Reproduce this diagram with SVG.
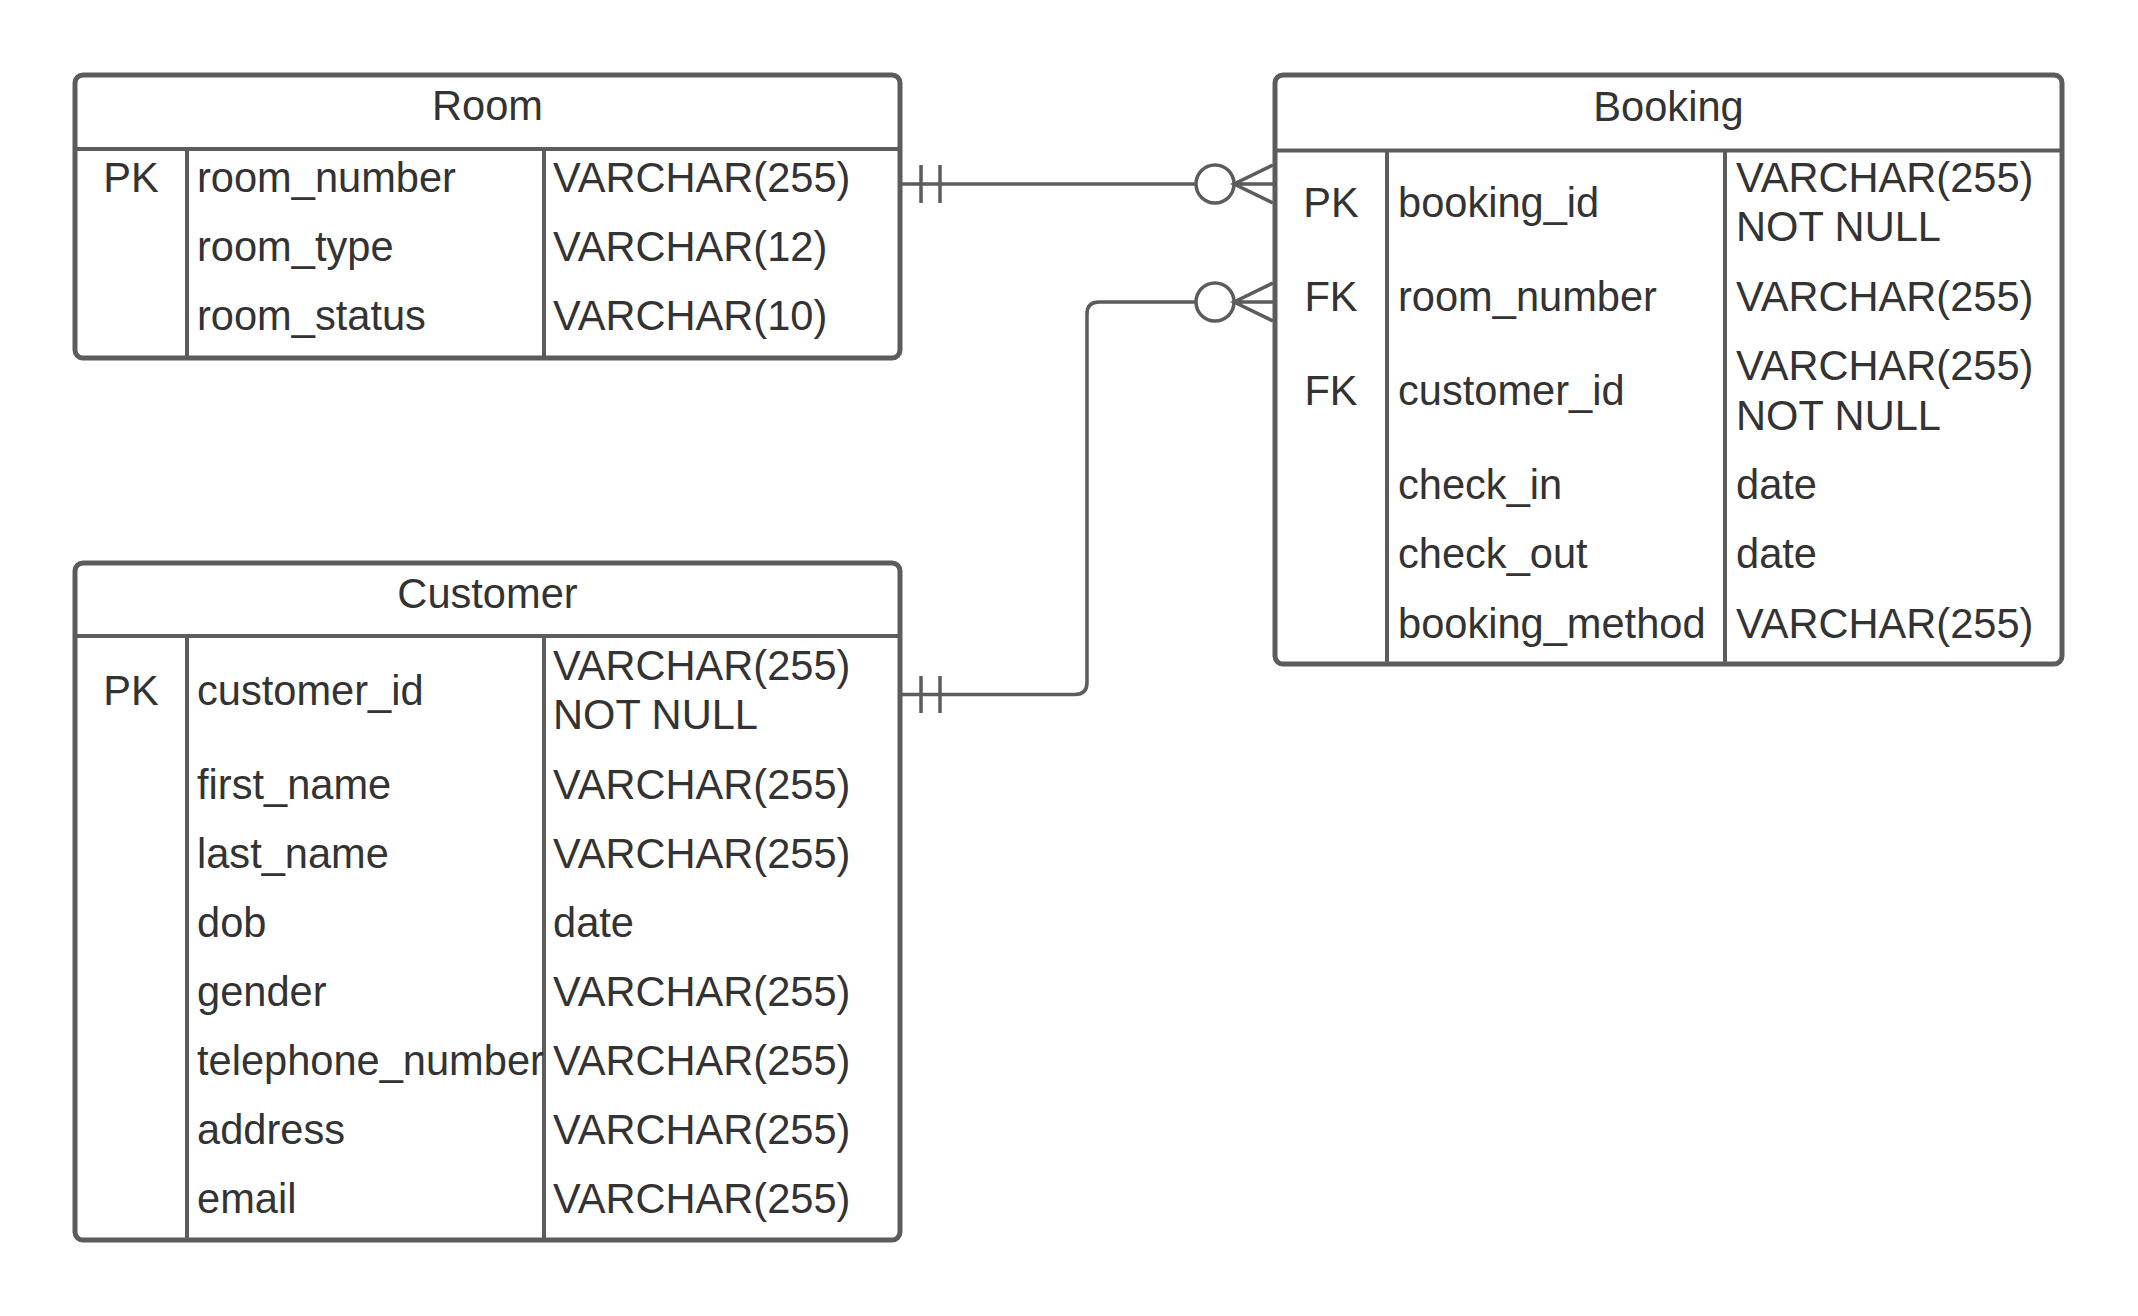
<svg xmlns="http://www.w3.org/2000/svg" width="2138" height="1316" viewBox="0 0 2138 1316">
<style>
.box{fill:#ffffff;stroke:#5c5c5c;stroke-width:5}
.div{stroke:#5c5c5c;stroke-width:4;fill:none}
.t{font-family:"Liberation Sans",Arial,sans-serif;font-size:41.6px;fill:#333333}
.c{text-anchor:middle}
.ln{stroke:#5c5c5c;stroke-width:3.5;fill:none}
</style>
<rect width="2138" height="1316" fill="#ffffff"/>
<g id="room">
<rect class="box" x="75" y="75" width="825" height="283" rx="8"/>
<line class="div" x1="75" y1="149" x2="900" y2="149"/>
<line class="div" x1="187" y1="149" x2="187" y2="358"/>
<line class="div" x1="544" y1="149" x2="544" y2="358"/>
<text class="t c" x="487.5" y="120">Room</text>
<text class="t c" x="131" y="192">PK</text>
<text class="t" x="197" y="192">room_number</text>
<text class="t" x="553" y="192">VARCHAR(255)</text>
<text class="t" x="197" y="261">room_type</text>
<text class="t" x="553" y="261">VARCHAR(12)</text>
<text class="t" x="197" y="330">room_status</text>
<text class="t" x="553" y="330">VARCHAR(10)</text>
</g>
<g id="booking">
<rect class="box" x="1275" y="75" width="787" height="589" rx="8"/>
<line class="div" x1="1275" y1="150.5" x2="2062" y2="150.5"/>
<line class="div" x1="1387" y1="150.5" x2="1387" y2="664"/>
<line class="div" x1="1725" y1="150.5" x2="1725" y2="664"/>
<text class="t c" x="1668.5" y="121">Booking</text>
<text class="t c" x="1331" y="216.5">PK</text>
<text class="t" x="1398" y="216.5">booking_id</text>
<text class="t" x="1736" y="191.5">VARCHAR(255)</text>
<text class="t" x="1736" y="241">NOT NULL</text>
<text class="t c" x="1331" y="311">FK</text>
<text class="t" x="1398" y="311">room_number</text>
<text class="t" x="1736" y="311">VARCHAR(255)</text>
<text class="t c" x="1331" y="405">FK</text>
<text class="t" x="1398" y="405">customer_id</text>
<text class="t" x="1736" y="380">VARCHAR(255)</text>
<text class="t" x="1736" y="429.5">NOT NULL</text>
<text class="t" x="1398" y="498.5">check_in</text>
<text class="t" x="1736" y="498.5">date</text>
<text class="t" x="1398" y="568">check_out</text>
<text class="t" x="1736" y="568">date</text>
<text class="t" x="1398" y="637.5">booking_method</text>
<text class="t" x="1736" y="637.5">VARCHAR(255)</text>
</g>
<g id="customer">
<rect class="box" x="75" y="563" width="825" height="677" rx="8"/>
<line class="div" x1="75" y1="636" x2="900" y2="636"/>
<line class="div" x1="187" y1="636" x2="187" y2="1240"/>
<line class="div" x1="544" y1="636" x2="544" y2="1240"/>
<text class="t c" x="487.5" y="607.5">Customer</text>
<text class="t c" x="131" y="705">PK</text>
<text class="t" x="197" y="705">customer_id</text>
<text class="t" x="553" y="680">VARCHAR(255)</text>
<text class="t" x="553" y="729">NOT NULL</text>
<text class="t" x="197" y="799">first_name</text>
<text class="t" x="553" y="799">VARCHAR(255)</text>
<text class="t" x="197" y="868">last_name</text>
<text class="t" x="553" y="868">VARCHAR(255)</text>
<text class="t" x="197" y="937">dob</text>
<text class="t" x="553" y="937">date</text>
<text class="t" x="197" y="1006">gender</text>
<text class="t" x="553" y="1006">VARCHAR(255)</text>
<text class="t" x="197" y="1075">telephone_number</text>
<text class="t" x="553" y="1075">VARCHAR(255)</text>
<text class="t" x="197" y="1144">address</text>
<text class="t" x="553" y="1144">VARCHAR(255)</text>
<text class="t" x="197" y="1213">email</text>
<text class="t" x="553" y="1213">VARCHAR(255)</text>
</g>
<g id="connectors">
<path class="ln" d="M 902 184 H 1196"/>
<path class="ln" d="M 921 165 V 203 M 940 165 V 203"/>
<circle class="ln" cx="1215" cy="184" r="19"/>
<path class="ln" d="M 1273 165 L 1234 184 L 1273 203 M 1234 184 H 1273"/>
<path class="ln" d="M 902 694.5 H 1075 Q 1087 694.5 1087 682.5 V 314 Q 1087 302 1099 302 H 1196"/>
<path class="ln" d="M 921 676 V 713 M 940 676 V 713"/>
<circle class="ln" cx="1215" cy="302" r="19"/>
<path class="ln" d="M 1273 283 L 1234 302 L 1273 321 M 1234 302 H 1273"/>
</g>
</svg>
